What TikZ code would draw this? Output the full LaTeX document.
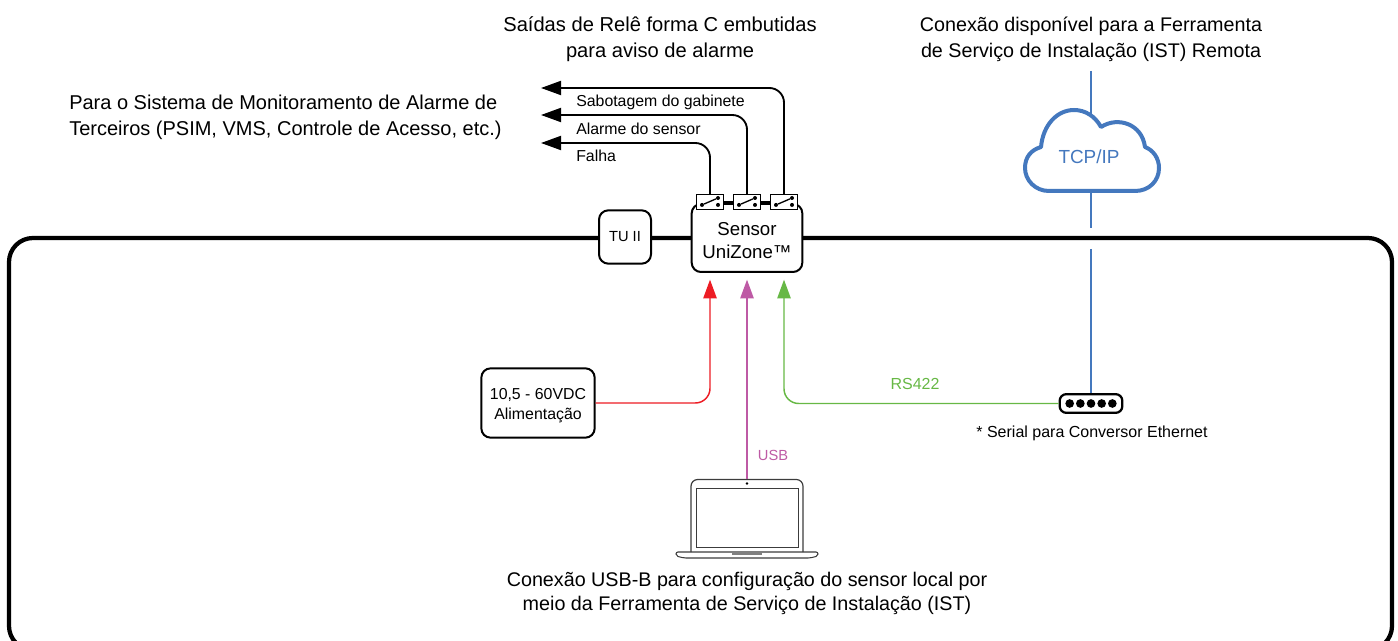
\documentclass[tikz,border=0pt]{standalone}
\usepackage{fontspec}
\setmainfont{Liberation Sans}
\usepackage{tikz}
\usetikzlibrary{arrows.meta}
\definecolor{cloudblue}{RGB}{68,120,190}
\definecolor{powerred}{RGB}{237,28,36}
\definecolor{usbpink}{RGB}{190,90,165}
\definecolor{rsgreen}{RGB}{103,184,69}
\definecolor{laptopgray}{RGB}{60,60,60}
\tikzset{
  caption/.style={align=center, font=\fontsize{14.8}{19.5}\selectfont, inner sep=0pt},
  relaylabel/.style={anchor=west, font=\fontsize{11.9}{13}\selectfont, inner sep=0pt, text height=8pt, text depth=2pt},
  box/.style={draw=black, line width=1.5pt, fill=white, rounded corners=7pt, align=center, inner sep=0pt},
  relay/.style={draw=black, line width=.7pt, fill=white, minimum width=20.5pt, minimum height=11pt, inner sep=0pt},
  wire/.style={draw=black, line width=1.4pt, rounded corners=11pt},
  inarrow/.style={line width=1.1pt, rounded corners=11pt, shorten >=5pt, -{Triangle[length=14pt,width=10pt]}},
  outarrow/.style={wire, -{Triangle[length=15pt,width=10.5pt]}},
  pin/.style={circle, fill=black, minimum size=6.5pt, inner sep=0pt},
  contact/.style={circle, fill=black, minimum size=3pt, inner sep=0pt}
}
\begin{document}
\begin{tikzpicture}[x=.75pt, y=-.75pt]
\useasboundingbox (0,0) rectangle (1398,641);
\clip (0,0) rectangle (1398,641);

% housing
\draw[line width=3.2pt, rounded corners=18pt] (9,238) rectangle (1392,650);

% captions
\node[caption, font=\fontsize{15.1}{19.5}\selectfont] (relaycap) at (660,39) {Saídas de Relê forma C embutidas\\para aviso de alarme};
\node[caption] (istcap) at (1091,39) {Conexão disponível para a Ferramenta\\de Serviço de Instalação (IST) Remota};
\node[caption, align=left, anchor=west, font=\fontsize{15}{19.5}\selectfont] (psimcap) at (69,117) {Para o Sistema de Monitoramento de Alarme de\\Terceiros (PSIM, VMS, Controle de Acesso, etc.)};
\node[caption, font=\fontsize{14.8}{18}\selectfont] (usbcap) at (747,593) {Conexão USB-B para configuração do sensor local por\\meio da Ferramenta de Serviço de Instalação (IST)};

% nodes
\node[box, minimum width=39pt, minimum height=40pt, font=\fontsize{11}{13}\selectfont] (tu) at (625,237) {TU II};
\node[box, minimum width=83pt, minimum height=51pt, font=\fontsize{14}{17.5}\selectfont] (sensor) at (747,238) {\rule{0pt}{14pt}Sensor\\UniZone™};
\node[box, minimum width=85pt, minimum height=52pt, font=\fontsize{11.9}{15}\selectfont] (power) at (538,403) {\rule{0pt}{12pt}10,5 - 60VDC\\Alimentação};

% relays
\node[relay] (relayA) at (710,202) {};
\node[relay] (relayB) at (747,202) {};
\node[relay] (relayC) at (784,202) {};
\draw[line width=1.5pt] (relayA) -- (relayB) (relayB) -- (relayC);
\foreach \name in {relayA,relayB,relayC} {
  \node[contact] (\name l) at ([xshift=-6pt,yshift=-2.2pt]\name.center) {};
  \node[contact] (\name t) at ([xshift=6pt,yshift=3pt]\name.center) {};
  \node[contact] (\name b) at ([xshift=6pt,yshift=-2.2pt]\name.center) {};
  \draw[line width=1pt] (\name l) -- (\name t);
}

% alarm outputs
\coordinate (outA) at (541,143);
\coordinate (outB) at (541,115);
\coordinate (outC) at (541,88);
\draw[outarrow] (relayA.north) |- (outA);
\draw[outarrow] (relayB.north) |- (outB);
\draw[outarrow] (relayC.north) |- (outC);
\node[relaylabel] (falha) at (576,158) {Falha};
\node[relaylabel] (alarme) at (576,131) {Alarme do sensor};
\node[relaylabel] (sabotagem) at (576,103) {Sabotagem do gabinete};

% converter
\node[draw=black, line width=1.7pt, fill=white, rounded corners=5pt, minimum width=47pt, minimum height=14pt, inner sep=0pt] (conv) at (1091,403.5) {};
\foreach \i in {-2,...,2}
  \node[pin] (pin\i) at ([xshift=\i*8pt]conv.center) {};
\node[inner sep=0pt, font=\fontsize{12}{13}\selectfont] (convcap) at (1092,433) {* Serial para Conversor Ethernet};

% cloud link
\coordinate (linktop) at (1091,71);
\coordinate (linkmid) at (1091,228);
\coordinate (linklow) at (1091,249);
\draw[cloudblue, line width=.9pt] (linktop) -- (linkmid);
\draw[cloudblue, line width=.9pt] (linklow) -- (conv.north);
\draw[cloudblue, line width=3pt, fill=white, line join=round] (1049,191)
  .. controls (1035,191) and (1025,180) .. (1025,168)
  .. controls (1025,157) and (1031,150) .. (1041,147)
  .. controls (1043,125) and (1057,110) .. (1074,110)
  .. controls (1085,110) and (1095,116) .. (1101,127)
  .. controls (1118,116) and (1142,124) .. (1145,147)
  .. controls (1153,150) and (1159,158) .. (1159,168)
  .. controls (1159,181) and (1149,191) .. (1135,191) -- cycle;
\node[cloudblue, inner sep=0pt, font=\fontsize{14.2}{16}\selectfont] (tcp) at (1089,157) {TCP/IP};

% laptop
\coordinate (usbport) at (747,479);
\draw[laptopgray, line width=.9pt, fill=white, rounded corners=5pt] (691,552) -- (691,479.5) -- (803,479.5) -- (803,552);
\node[draw=laptopgray, line width=.8pt, minimum width=77pt, minimum height=44pt, inner sep=0pt, anchor=north west] (screen) at (695.5,488) {};
\node[circle, fill=black, minimum size=2.2pt, inner sep=0pt] (cam) at (747,483.5) {};
\draw[laptopgray, line width=.8pt, rounded corners=1.5pt] (676,552) -- (818,552) -- (818,556) -- (810,558) -- (684,558) -- (676,556) -- cycle;
\fill[gray] (732,552) rectangle (762,554.5);

% inputs
\draw[inarrow, powerred] (power.east) -| (sensor.south -| relayA);
\draw[inarrow, usbpink] (usbport) -- (sensor.south);
\draw[inarrow, rsgreen] (conv.west) -| (sensor.south -| relayC);
\node[rsgreen, inner sep=0pt, font=\fontsize{12}{13}\selectfont] (rs) at (915,384) {RS422};
\node[usbpink, inner sep=0pt, font=\fontsize{11}{13}\selectfont] (usb) at (773,455) {USB};
\end{tikzpicture}
\end{document}
